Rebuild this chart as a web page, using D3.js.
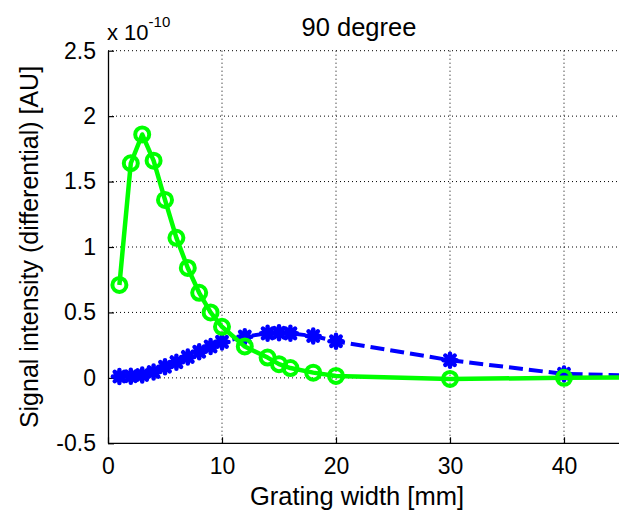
<!DOCTYPE html>
<html><head><meta charset="utf-8">
<script src="https://cdn.jsdelivr.net/npm/d3@7"></script>
<style>body{margin:0;background:#fff}svg{display:block}text{font-family:"Liberation Sans",Arial,Helvetica,sans-serif;fill:#000}</style>
</head><body>
<script>
const widths = [1,2,3,4,5,6,7,8,9,10,12,14,15,16,18,20,30,40,50];
const greenSeries = [0.71,1.64,1.86,1.66,1.36,1.07,0.84,0.65,0.50,0.39,0.24,0.155,0.105,0.075,0.04,0.015,-0.008,0.0,0.005];
const blueSeries = [0.01,0.012,0.022,0.045,0.085,0.12,0.16,0.2,0.24,0.275,0.315,0.34,0.345,0.34,0.32,0.28,0.135,0.03,0.01];
const xTicks = [0,10,20,30,40];
const yTicks = [-0.5,0,0.5,1,1.5,2,2.5];
const yTickLabels = ["-0.5","0","0.5","1","1.5","2","2.5"];

const W = 619, H = 522;
const svg = d3.select("body").append("svg").attr("width", W).attr("height", H);
const x = d3.scaleLinear().domain([0,45]).range([108,621]);
const y = d3.scaleLinear().domain([-0.5,2.5]).range([443.3,50.7]);

svg.append("defs").append("clipPath").attr("id","clip")
  .append("rect").attr("x",108).attr("y",50).attr("width",W-108).attr("height",394);

// grid
const grid = svg.append("g").attr("stroke","#000").attr("stroke-width",1).attr("stroke-dasharray","1,3");
xTicks.filter(d=>d>0).forEach(d=>grid.append("line").attr("x1",x(d)).attr("x2",x(d)).attr("y1",y(2.5)).attr("y2",y(-0.5)));
yTicks.filter(d=>d>-0.5).forEach(d=>grid.append("line").attr("x1",x(0)).attr("x2",W).attr("y1",y(d)).attr("y2",y(d)));

// axes
const xAxis = d3.axisBottom(x).tickValues(xTicks).tickSizeInner(-6).tickSizeOuter(0).tickPadding(14);
const yAxis = d3.axisLeft(y).tickValues(yTicks).tickFormat((d,i)=>yTickLabels[i]).tickSizeInner(-6).tickSizeOuter(0).tickPadding(12);
const gx = svg.append("g").attr("transform",`translate(0,${y(-0.5)})`).call(xAxis);
const gy = svg.append("g").attr("transform",`translate(${x(0)},0)`).call(yAxis);
[gx,gy].forEach(g=>{
  g.select(".domain").attr("stroke","#000").attr("stroke-width",1.3);
  g.selectAll(".tick line").attr("stroke","#000").attr("stroke-width",1.2);
  g.selectAll("text").attr("font-size",23).attr("font-family",'"Liberation Sans",Arial,sans-serif').attr("fill","#000");
});
gx.select(".domain").attr("d",`M${x(0)},0H${W}`);

const plot = svg.append("g").attr("clip-path","url(#clip)");
const line = d3.line().x((d,i)=>x(widths[i])).y(d=>y(d));

// blue dashed with asterisks
plot.append("path").datum(blueSeries).attr("d",line).attr("fill","none")
  .attr("stroke","#0000ff").attr("stroke-width",4).attr("stroke-dasharray","14,6");
const r = 6.5;
blueSeries.forEach((v,i)=>{
  const cx = x(widths[i]), cy = y(v);
  const g = plot.append("g").attr("stroke","#0000ff").attr("stroke-width",4.5).attr("stroke-linecap","round");
  const d = r*0.72;
  g.append("circle").attr("cx",cx).attr("cy",cy).attr("r",3.5).attr("fill","#0000ff");
  g.append("line").attr("x1",cx-r).attr("x2",cx+r).attr("y1",cy).attr("y2",cy);
  g.append("line").attr("x1",cx).attr("x2",cx).attr("y1",cy-r).attr("y2",cy+r);
  g.append("line").attr("x1",cx-d).attr("x2",cx+d).attr("y1",cy-d).attr("y2",cy+d);
  g.append("line").attr("x1",cx-d).attr("x2",cx+d).attr("y1",cy+d).attr("y2",cy-d);
});

// green solid with circles
plot.append("path").datum(greenSeries).attr("d",line).attr("fill","none")
  .attr("stroke","#00ff00").attr("stroke-width",4.5).attr("stroke-linejoin","round");
plot.selectAll("circle.g").data(greenSeries).join("circle")
  .attr("cx",(d,i)=>x(widths[i])).attr("cy",d=>y(d)).attr("r",7)
  .attr("fill","none").attr("stroke","#00ff00").attr("stroke-width",4);

// texts
svg.append("text").attr("x",359).attr("y",36).attr("text-anchor","middle").attr("font-size",25.5).text("90 degree");
svg.append("text").attr("x",357).attr("y",505).attr("text-anchor","middle").attr("font-size",25.5).text("Grating width [mm]");
svg.append("text").attr("transform",`translate(38,${(y(2.5)+y(-0.5))/2}) rotate(-90)`).attr("text-anchor","middle").attr("font-size",25).text("Signal intensity (differential) [AU]");
const ex = svg.append("text").attr("x",107).attr("y",40).attr("font-size",22);
ex.append("tspan").text("x 10");
ex.append("tspan").attr("font-size",15).attr("dy",-13).text("-10");
</script>
</body></html>
